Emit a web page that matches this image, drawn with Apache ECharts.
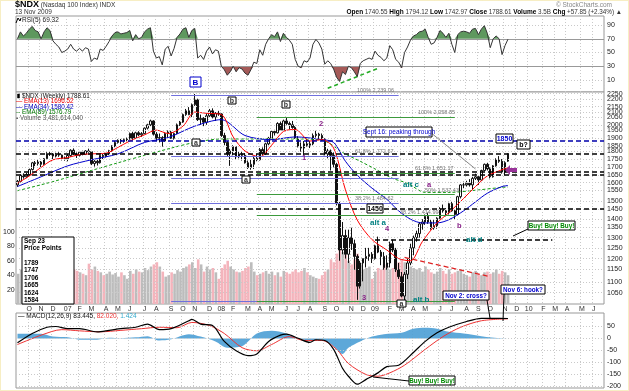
<!DOCTYPE html>
<html><head><meta charset="utf-8">
<script src="https://cdn.jsdelivr.net/npm/echarts@6/dist/echarts.min.js"></script>
<style>html,body{margin:0;padding:0;background:#fff}#c{width:629px;height:391px}</style>
</head><body><div id="c"></div><script>
// ---------- DATA ----------
const firstWeek = '2006-09-08';
const totalWeeks = 199;
// weekly [open, high, low, close]
const ohlc2006 = [[1590,1620,1578,1612],[1612,1655,1605,1650],[1650,1662,1628,1640],[1640,1665,1632,1654],[1654,1692,1645,1686],[1686,1736,1680,1730],[1730,1742,1708,1725],[1725,1752,1712,1735],[1735,1742,1702,1720],[1720,1762,1714,1757],[1757,1802,1750,1793],[1793,1806,1776,1790],[1790,1796,1752,1775],[1775,1798,1766,1785],[1785,1802,1770,1782],[1782,1786,1746,1760],[1760,1772,1744,1757]];
const ohlc2007 = [[1757,1790,1740,1779],[1779,1822,1770,1815],[1815,1828,1782,1790],[1790,1800,1762,1780],[1780,1810,1772,1802],[1802,1812,1780,1787],[1787,1816,1782,1810],[1810,1826,1798,1805],[1805,1810,1715,1725],[1725,1748,1705,1740],[1740,1752,1712,1730],[1730,1786,1725,1780],[1780,1790,1755,1772],[1772,1796,1765,1790],[1790,1818,1782,1812],[1812,1850,1805,1845],[1845,1880,1836,1870],[1870,1892,1862,1885],[1885,1895,1860,1880],[1880,1898,1868,1890],[1890,1905,1878,1895],[1895,1942,1890,1935],[1935,1948,1885,1900],[1900,1948,1895,1940],[1940,1952,1915,1925],[1925,1945,1910,1934],[1934,1980,1930,1975],[1975,2008,1965,2000],[2000,2040,1990,2030],[2030,2035,1920,1930],[1930,1945,1880,1900],[1900,1935,1870,1905],[1905,1915,1840,1880],[1880,1942,1875,1935],[1935,1958,1905,1945],[1945,1955,1895,1900],[1900,1942,1890,1935],[1935,2010,1930,2000],[2000,2030,1992,2021],[2021,2088,2015,2080],[2080,2125,2070,2110],[2110,2140,2075,2080],[2080,2170,2060,2160],[2160,2250,2150,2200],[2200,2210,2030,2040],[2040,2080,2000,2050],[2050,2060,1990,2020],[2020,2090,2000,2070],[2070,2125,2060,2110],[2110,2130,2050,2060],[2060,2100,2030,2090],[2090,2110,2070,2085]];
const ohlc2008 = [[2085,2090,1910,1920],[1920,1940,1850,1870],[1870,1880,1770,1790],[1790,1825,1710,1810],[1810,1850,1780,1840],[1840,1845,1755,1770],[1770,1805,1760,1790],[1790,1810,1745,1780],[1780,1795,1725,1730],[1730,1745,1690,1700],[1700,1755,1685,1720],[1720,1770,1690,1760],[1760,1790,1740,1750],[1750,1830,1745,1820],[1820,1835,1780,1790],[1790,1868,1782,1860],[1860,1910,1850,1900],[1900,1960,1890,1950],[1950,1962,1920,1940],[1940,2020,1935,2010],[2010,2025,1955,1960],[1960,2040,1955,2030],[2030,2060,2000,2010],[2010,2025,1965,2000],[2000,2030,1970,1980],[1980,1990,1895,1900],[1900,1915,1835,1840],[1840,1870,1805,1830],[1830,1880,1780,1860],[1860,1895,1840,1850],[1850,1880,1830,1860],[1860,1935,1850,1920],[1920,1955,1905,1930],[1930,1940,1895,1920],[1920,1935,1880,1890],[1890,1900,1780,1790],[1790,1825,1760,1810],[1810,1820,1680,1780],[1780,1800,1700,1720],[1720,1730,1470,1480],[1480,1490,1190,1240],[1240,1380,1220,1310],[1310,1340,1200,1220],[1220,1340,1180,1300],[1300,1350,1240,1270],[1270,1290,1150,1210],[1210,1220,1025,1080],[1080,1190,1070,1180],[1180,1200,1100,1200],[1200,1250,1160,1210],[1210,1250,1190,1220],[1220,1230,1180,1200]];
const ohlc2009 = [[1200,1265,1195,1260],[1260,1305,1225,1230],[1230,1240,1170,1210],[1210,1230,1150,1160],[1160,1215,1150,1180],[1180,1280,1160,1270],[1270,1290,1230,1240],[1240,1250,1140,1150],[1150,1180,1110,1120],[1120,1140,1035,1040],[1040,1140,1018,1130],[1130,1200,1110,1180],[1180,1270,1170,1250],[1250,1310,1215,1300],[1300,1335,1280,1320],[1320,1380,1300,1370],[1370,1395,1340,1380],[1380,1420,1365,1410],[1410,1430,1370,1380],[1380,1395,1340,1350],[1350,1390,1340,1360],[1360,1405,1345,1400],[1400,1460,1395,1450],[1450,1475,1430,1440],[1440,1455,1410,1430],[1430,1485,1420,1480],[1480,1490,1435,1440],[1440,1450,1395,1420],[1420,1525,1415,1520],[1520,1595,1510,1590],[1590,1610,1570,1590],[1590,1615,1580,1600],[1600,1625,1580,1590],[1590,1640,1560,1630],[1630,1660,1620,1640],[1640,1645,1590,1620],[1620,1685,1615,1680],[1680,1725,1675,1720],[1720,1730,1680,1690],[1690,1700,1630,1640],[1640,1715,1635,1710],[1710,1760,1705,1750],[1750,1775,1730,1740],[1740,1755,1660,1670],[1670,1740,1650,1731],[1740.55,1794.12,1736,1788.61]];
const vol2006 = [42,48,45,50,47,52,46,44,48,45,50,38,46,44,48,40,30];
const vol2007 = [45,50,48,46,44,42,40,56,48,52,46,44,40,42,45,41,43,38,44,40,35,46,42,48,45,44,50,47,52,55,58,52,45,38,40,44,42,47,45,50,52,55,58,50,62,55,45,52,48,50,44,35];
const vol2008 = [50,55,60,52,48,45,44,46,50,52,58,45,40,42,44,46,42,45,40,44,38,46,44,42,45,48,44,46,50,44,40,38,36,35,40,45,48,62,58,70,85,72,68,60,55,62,70,55,48,50,52,35];
const vol2009 = [45,50,48,55,52,48,50,55,58,62,58,55,52,50,48,50,45,52,48,44,42,45,50,46,42,48,42,44,46,48,42,40,38,44,46,42,40,44,45,42,44,48,42,46,44,40];
const rsi2006 = [70,80,74,78,84,88,82,80,70,80,86,82,67,62,58,50,52];
const rsi2007 = [55,62,55,52,56,52,57,55,37,42,40,55,53,59,66,74,79,80,77,78,79,82,67,76,70,72,80,84,86,52,42,44,32,55,59,45,56,72,77,84,86,72,82,85,42,46,40,52,58,48,54,52];
const rsi2008 = [30,25,17,22,30,22,28,26,20,17,25,36,34,54,46,62,70,76,73,80,66,78,72,68,62,40,30,28,38,36,42,62,69,64,55,33,38,34,26,14,8,22,18,30,28,22,15,34,38,40,42,40];
const rsi2009 = [52,46,43,38,42,60,54,40,36,28,50,58,68,74,76,80,81,84,72,62,64,72,82,78,72,78,62,50,76,80,81,80,78,84,85,76,84,89,78,57,70,74,70,47,60,69.32];
// [week index, value]
const ema13 = [[0,1600],[4,1645],[8,1700],[12,1750],[17,1765],[21,1785],[25,1790],[30,1795],[34,1835],[38,1880],[43,1925],[47,1960],[51,1935],[56,1990],[60,2100],[64,2090],[69,2080],[73,1910],[77,1810],[82,1770],[86,1850],[90,1950],[94,1965],[99,1880],[103,1890],[107,1830],[111,1560],[115,1390],[120,1290],[125,1240],[129,1200],[133,1190],[137,1280],[142,1375],[146,1430],[151,1510],[155,1580],[159,1645],[164,1685],[166,1697]];
const ema34 = [[0,1580],[8,1640],[17,1710],[25,1750],[34,1790],[43,1870],[51,1905],[60,1990],[69,2040],[77,1920],[86,1890],[90,1900],[94,1910],[103,1890],[107,1870],[111,1740],[115,1650],[120,1570],[125,1505],[129,1440],[133,1395],[137,1375],[142,1375],[146,1392],[151,1440],[155,1490],[159,1540],[164,1580],[166,1586]];
const ema89 = [[0,1555],[12,1610],[25,1680],[34,1730],[43,1780],[52,1830],[60,1870],[69,1895],[81,1895],[95,1895],[104,1880],[110,1800],[116,1740],[121,1690],[127,1630],[132,1600],[138,1545],[146,1545],[155,1558],[164,1575],[166,1577]];
const macdLine = [[0,-18],[5,21],[10,47],[13,50],[17,41],[21,41],[27,28],[31,34],[35,41],[40,47],[44,60],[48,37],[52,41],[58,74],[59,80],[62,60],[66,54],[70,-12],[74,-51],[78,-71],[81,-64],[85,-12],[89,14],[91,18],[95,1],[99,-16],[101,-5],[104,-8],[107,-45],[110,-124],[112,-157],[115,-190],[118,-170],[122,-143],[125,-117],[129,-111],[134,-58],[138,-12],[142,24],[146,47],[152,71],[157,84],[161,84],[166,83.445]];
const macdSignal = [[0,-25],[8,14],[15,37],[21,32],[28,28],[35,34],[42,41],[48,47],[54,45],[59,67],[65,54],[70,21],[76,-38],[81,-51],[86,-25],[92,8],[97,-8],[103,-8],[108,-45],[112,-104],[118,-150],[122,-157],[126,-143],[131,-111],[138,-45],[144,8],[150,47],[157,74],[166,82.02]];
const macdHist = [[0,20],[8,20],[12,8],[17,5],[21,-5],[27,-5],[31,3],[35,1],[40,5],[44,10],[48,-8],[52,-3],[58,18],[62,8],[67,-12],[71,-38],[76,-32],[81,21],[86,32],[91,21],[95,1],[99,-8],[103,-5],[107,-32],[110,-64],[112,-38],[116,-12],[120,8],[124,18],[130,24],[134,41],[138,45],[142,41],[146,28],[151,21],[157,10],[164,1.4],[166,1.424]];
const priceTicks = [1050,1100,1150,1200,1250,1300,1350,1400,1450,1500,1550,1600,1650,1700,1750,1800,1850,1900,1950,2000,2050,2100,2150,2200,2250];
const rsiTicks = [90,70,50,30,10];
const macdTicks = [50,0,-50,-100,-150,-200];
const volTicks = [20,40,60,80,100];
const monthLetters = ['J','F','M','A','M','J','J','A','S','O','N','D'];
// annotation levels (price)
const fullLines = [[1875,'#0000aa'],[1794,'#000000'],[1665,'#000000'],[1650,'#000000'],[1450,'#000000']];
const blueFib = [2239,1773,1628,1484,1018];
const greenFib = [2060,1660,1537,1415,1018];
const priceTexts = ['Sep 23','Price Points','','1789','1747','1706','1665','1624','1584'];

// ---------- BUILD ----------
const ohlc = ohlc2006.concat(ohlc2007, ohlc2008, ohlc2009);
const vol = vol2006.concat(vol2007, vol2008, vol2009);
const rsi = rsi2006.concat(rsi2007, rsi2008, rsi2009);
const L = Math.log;
const cats = [], monthStart = [];
const d0 = new Date(firstWeek + 'T00:00:00Z');
for (let i = 0; i < totalWeeks; i++) {
  const d = new Date(d0.getTime() + i * 7 * 86400000);
  cats.push(d.toISOString().slice(0, 10));
  monthStart.push(d.getUTCDate() <= 7);
}
function monthLabel(v) {
  const d = new Date(v + 'T00:00:00Z');
  const m = d.getUTCMonth();
  return m === 0 ? String(d.getUTCFullYear()).slice(2) : monthLetters[m];
}
const FONT = 'Liberation Sans, Arial, sans-serif';
const lnMax = L(2250) + 2 / 261.8, lnMin = L(2250) - 210 / 261.8;
const candle = ohlc.map(r => [L(r[0]), L(r[3]), L(r[2]), L(r[1])]);
const volBars = vol.map((v, i) => ({value: v, itemStyle: {color: ohlc[i][3] < ohlc[i][0] ? '#f4b4bc' : '#bcbcbc'}}));
const lnPairs = a => a.map(p => [p[0], L(p[1])]);
const gridLine = '#c9c9c9';

function xAx(g, labels) {
  return {type: 'category', data: cats, gridIndex: g, boundaryGap: true,
    axisLine: {show: false}, axisTick: {show: false},
    axisLabel: labels ? {show: true, interval: (i) => monthStart[i] && i < 197, formatter: monthLabel,
      fontSize: 7, color: '#333', margin: 2, fontFamily: FONT} : {show: false},
    splitLine: {show: g !== 2, interval: (i) => monthStart[i], lineStyle: {color: gridLine, type: [1, 2], width: 1}}};
}
function yAx(g, min, max, extra) {
  return Object.assign({type: 'value', gridIndex: g, min, max, axisLine: {show: false}, axisTick: {show: false},
    axisLabel: {show: false}, splitLine: {show: false}}, extra || {});
}
const tickLab = {show: true, position: 'end', distance: 3, fontSize: 7, color: '#222', fontFamily: FONT};
const dotted = {color: gridLine, type: [1, 2], width: 1};
const seg = (a, b, style) => [{coord: a, lineStyle: style}, {coord: b}];

const mainMark = [];
priceTicks.forEach(p => mainMark.push({yAxis: L(p), lineStyle: dotted, label: Object.assign({formatter: String(p)}, tickLab)}));
fullLines.forEach(f => mainMark.push({yAxis: L(f[0]), lineStyle: {color: f[1], type: [5, 3], width: 1.5}, label: {show: false}}));
blueFib.forEach(p => mainMark.push(seg([52, L(p)], [129, L(p)], {color: '#7070dd', type: 'solid', width: 1})));
greenFib.forEach(p => mainMark.push(seg([81, L(p)], [148, L(p)], {color: '#3c9a3c', type: 'solid', width: 1})));
mainMark.push(seg([121, L(1290)], [181, L(1290)], {color: '#000', type: [5, 3], width: 1.5}));
mainMark.push(seg([59, L(2275)], [178, L(1565)], {color: '#000', type: [5, 3], width: 1.3}));
mainMark.push(seg([139.5, L(1939)], [155, L(1690)], {color: '#888', type: 'solid', width: 1}));
mainMark.push(seg([131, L(1205)], [160, L(1120)], {color: '#dd2222', type: [5, 3], width: 1.3}));

const rsiMark = rsiTicks.map(v => ({yAxis: v,
  lineStyle: (v === 70 || v === 30) ? {color: '#999', type: 'solid', width: 1} : dotted,
  label: Object.assign({formatter: String(v)}, tickLab)}));
rsiMark.push(seg([105, -2], [122, 27], {color: '#22aa22', type: [4, 3], width: 1.5}));
const macdMark = macdTicks.map(v => ({yAxis: v, lineStyle: dotted, label: Object.assign({formatter: String(v)}, tickLab)}));

const lineS = (x, data, color, w, type, z) => ({type: 'line', xAxisIndex: x, yAxisIndex: x, data, symbol: 'none',
  smooth: 0.3, lineStyle: {color, width: w, type: type || 'solid'}, z: z || 4, silent: true, clip: false});

// ---------- GRAPHIC (annotations) ----------
const G = [];
function txt(x, y, text, o) {
  G.push({type: 'text', x, y, z: 100, style: Object.assign({text, fontSize: 7, fontFamily: FONT, fill: '#000', verticalAlign: 'middle', align: 'left'}, o || {})});
}
function rect(x, y, w, h, o) {
  G.push({type: 'rect', z: 99, shape: {x, y, width: w, height: h}, style: Object.assign({fill: '#fff', stroke: '#000', lineWidth: 1}, o || {})});
}
function ln(x1, y1, x2, y2, c, w) {
  G.push({type: 'line', z: 98, shape: {x1, y1, x2, y2}, style: {stroke: c || '#000', lineWidth: w || 1}});
}
function box(x, y, w, h, t, color, o) {
  rect(x, y, w, h, {stroke: (o && o.stroke) || '#000'});
  txt(x + w / 2, y + h / 2 + 0.5, t, Object.assign({fill: color || '#000', align: 'center', fontWeight: 'bold', fontSize: 7}, o && o.t));
}
// outer frame
G.push({type: 'rect', z: 0, shape: {x: 0.5, y: 0.5, width: 628, height: 390}, style: {fill: 'none', stroke: '#eedd88', lineWidth: 1, lineDash: [1, 1]}});
// header
txt(15, 5, '{a|$NDX} (Nasdaq 100 Index) INDX', {fontSize: 6.5, fill: '#333', rich: {a: {fontSize: 9, fontWeight: 'bold', fill: '#000', fontFamily: FONT}}});
txt(15, 12.5, '13 Nov 2009', {fontSize: 6.5, fill: '#333'});
txt(612, 5, '© StockCharts.com', {fontSize: 6.5, fill: '#888', align: 'right'});
txt(622, 12.5, '{b|Open} 1740.55 {b|High} 1794.12 {b|Low} 1742.97 {b|Close} 1788.61 {b|Volume} 3.5B {b|Chg} +57.85 (+2.34%) ▲',
  {fontSize: 6.3, fill: '#333', align: 'right', rich: {b: {fontWeight: 'bold', fill: '#000', fontSize: 6.5, fontFamily: FONT}}});
txt(22, 20.5, 'RSI(5) 69.32', {fontSize: 6.5, fill: '#222'});
G.push({type: 'polyline', z: 100, shape: {points: [[16, 23], [18, 18], [20, 21], [21, 18]]}, style: {stroke: '#000', lineWidth: 1, fill: 'none'}});
// main legend
txt(22, 96, '$NDX (Weekly) 1788.61', {fontSize: 6.3, fill: '#111'});
rect(17.5, 94, 2, 4, {fill: '#000', stroke: '#000', lineWidth: 0.5});
txt(16, 101.5, '— EMA(13) 1696.52', {fontSize: 6.3, fill: '#ee0000'});
txt(16, 107, '— EMA(34) 1580.42', {fontSize: 6.3, fill: '#0000bb'});
txt(16, 112.5, '-- EMA(89) 1576.79', {fontSize: 6.3, fill: '#007700'});
txt(16, 118, '▪ Volume 3,481,614,040', {fontSize: 6.3, fill: '#555'});
// boxed labels
box(190, 77, 11, 10, 'B', '#0000cc', {stroke: '#0000cc', t: {fontSize: 8}});
box(228, 97, 8, 7, 'b', '#333');
box(282, 101, 8, 7, 'b', '#333');
box(192, 139, 8, 7, 'a', '#333');
box(242, 176, 8, 7, 'a', '#333');
box(397, 300, 9, 7, 'a', '#333');
box(496, 134, 17, 9, '1850', '#0000cc');
box(517, 140, 13, 9, 'b?', '#000');
box(367, 204, 16, 9, '1450', '#000');
box(366, 127, 66, 10, 'Sept 16: peaking through', '#0000cc', {t: {fontWeight: 'normal', fontSize: 6.5}});
box(528, 221, 47, 9, 'Buy! Buy! Buy!', '#008800', {t: {fontSize: 6.3}});
box(443, 291, 46, 9, 'Nov 2: cross?', '#0000cc', {t: {fontSize: 6.3}});
box(501, 285, 44, 9, 'Nov 6: hook?', '#0000cc', {t: {fontSize: 6.3}});
box(409, 376, 46, 9, 'Buy! Buy! Buy!', '#008800', {t: {fontSize: 6.3}});
ln(528, 229, 513, 236); ln(487, 300, 490, 318); ln(504, 294, 503, 321); ln(409, 381, 373, 377);
// wave labels
[['2', 319, 124], ['1', 302, 158], ['3', 362, 298], ['4', 385, 229], ['b', 457, 226], ['a', 427, 185]]
  .forEach(a => txt(a[1], a[2], a[0], {fill: '#882288', fontWeight: 'bold', fontSize: 7.5}));
[['alt a', 370, 223], ['alt c', 403, 185], ['alt d', 466, 240], ['alt b', 413, 300]]
  .forEach(a => txt(a[1], a[2], a[0], {fill: '#008080', fontWeight: 'bold', fontSize: 8}));
[['100% 2,239.06', 357, 90], ['100% 2,058.85', 418, 112], ['61.8% 1,772.67', 355, 151], ['61.8% 1,651.17', 415, 168],
 ['38.2% 1,484.62', 355, 198], ['50% 1,537.43', 425, 190], ['38.2% 1,414.99', 400, 212]]
  .forEach(a => txt(a[1], a[2], a[0], {fill: '#777', fontSize: 5.5}));
G.push({type: 'polygon', z: 100, shape: {points: [[505, 170], [510, 165], [510, 168], [517, 168], [517, 172], [510, 172], [510, 175]]}, style: {fill: '#993399'}});
// price points box
rect(22, 237, 52, 67);
priceTexts.forEach((t, k) => txt(24, 241 + k * 7.4, t, {fontWeight: 'bold', fontSize: 6.5}));
// MACD title
txt(18, 316.5, '{k|—} MACD(12,26,9) 83.445, {r|82.020,} {t|1.424}', {fontSize: 6.5, fill: '#111',
  rich: {k: {fill: '#000', fontSize: 6.5, fontFamily: FONT}, r: {fill: '#ee3333', fontSize: 6.5, fontFamily: FONT}, t: {fill: '#33aacc', fontSize: 6.5, fontFamily: FONT}}});

// ---------- OPTION ----------
const gridBase = {left: 16, right: 25, show: true, borderColor: '#999', borderWidth: 1, backgroundColor: '#fff'};
const option = {
  animation: false,
  backgroundColor: '#fff',
  grid: [
    Object.assign({}, gridBase, {top: 16, height: 76}),
    Object.assign({}, gridBase, {top: 92, height: 212}),
    {left: 16, right: 25, top: 232, height: 72, show: false},
    Object.assign({}, gridBase, {top: 313, height: 75})
  ],
  xAxis: [xAx(0), xAx(1, true), xAx(2), xAx(3)],
  yAxis: [
    yAx(0, -7.4, 103.1),
    yAx(1, lnMin, lnMax),
    yAx(2, 0, 100, {interval: 20, position: 'left',
      axisLabel: {show: true, fontSize: 7, color: '#222', margin: 2, fontFamily: FONT, formatter: v => volTicks.includes(v) ? String(v) : ''}}),
    yAx(3, -206, 106.3)
  ],
  graphic: G,
  series: [
    // RSI fills
    {type: 'line', xAxisIndex: 0, yAxisIndex: 0, stack: 'hi', data: rsi.map(() => 70), symbol: 'none', lineStyle: {opacity: 0}, silent: true},
    {type: 'line', xAxisIndex: 0, yAxisIndex: 0, stack: 'hi', data: rsi.map(v => Math.max(v, 70) - 70), symbol: 'none', lineStyle: {opacity: 0}, areaStyle: {color: '#5e985e', opacity: 1}, silent: true},
    {type: 'line', xAxisIndex: 0, yAxisIndex: 0, stack: 'lo', data: rsi.map(v => Math.min(v, 30)), symbol: 'none', lineStyle: {opacity: 0}, silent: true},
    {type: 'line', xAxisIndex: 0, yAxisIndex: 0, stack: 'lo', data: rsi.map(v => 30 - Math.min(v, 30)), symbol: 'none', lineStyle: {opacity: 0}, areaStyle: {color: '#a55a58', opacity: 1}, silent: true},
    {type: 'line', xAxisIndex: 0, yAxisIndex: 0, data: rsi, symbol: 'none', lineStyle: {color: '#333', width: 1}, z: 5, silent: true, clip: false,
      markLine: {silent: true, symbol: ['none', 'none'], animation: false, data: rsiMark}},
    // volume
    {type: 'bar', xAxisIndex: 2, yAxisIndex: 2, data: volBars, barWidth: 2.6, z: 1, silent: true},
    // candles
    {type: 'candlestick', xAxisIndex: 1, yAxisIndex: 1, data: candle, barWidth: 2, z: 3, silent: true, clip: false,
      itemStyle: {color: '#ffffff', color0: '#111111', borderColor: '#111111', borderColor0: '#111111', borderWidth: 1},
      markLine: {silent: true, symbol: ['none', 'none'], animation: false, data: mainMark}},
    lineS(1, lnPairs(ema89), '#119911', 1, [3, 2]),
    lineS(1, lnPairs(ema34), '#0000cc', 1),
    lineS(1, lnPairs(ema13), '#ff0000', 1),
    // MACD
    {type: 'line', xAxisIndex: 3, yAxisIndex: 3, data: macdHist, symbol: 'none', smooth: 0.3, lineStyle: {width: 0}, areaStyle: {color: '#4b9fd5', opacity: 0.9}, z: 2, silent: true, clip: false,
      markLine: {silent: true, symbol: ['none', 'none'], animation: false, data: macdMark}},
    lineS(3, macdSignal, '#ee3333', 1),
    lineS(3, macdLine, '#000000', 1.2, 'solid', 5)
  ]
};
const chart = echarts.init(document.getElementById('c'), null, {renderer: 'canvas'});
chart.setOption(option);
</script></body></html>
